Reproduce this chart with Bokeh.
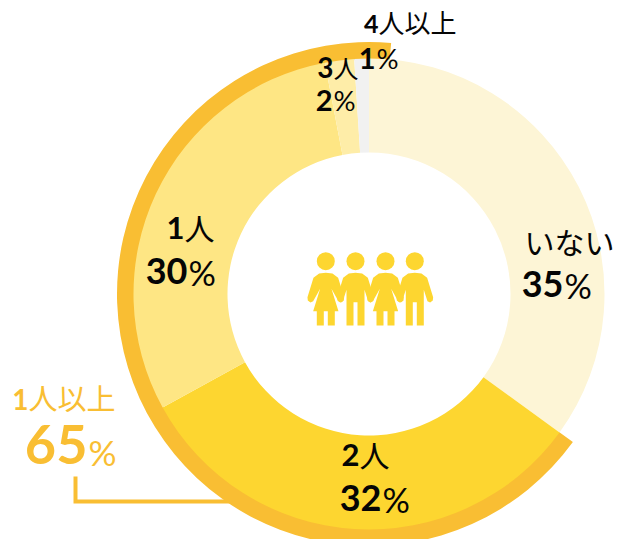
from math import pi
from bokeh.plotting import figure
from bokeh.models import Range1d
from bokeh.core.properties import value
from bokeh.embed import file_html
from bokeh.resources import INLINE

categories = ["いない", "2人", "1人", "3人", "4人以上"]
shares = [35, 32, 30, 2, 1]
colors = ["#FDF5D6", "#FDD630", "#FEE684", "#FEEDA8", "#F1F1F1"]
group_label = "1人以上"
group_share = 65
group_color = "#F9BE33"
ink = "#050505"

CX, CY = 368.5, 293.5
W, H = 618, 539
INNER, OUTER, RING = 141.5, 235.5, 252
RING_OVERSHOOT = 1.4

p = figure(width=W, height=H, output_backend="svg", toolbar_location=None,
           x_range=Range1d(0, 618), y_range=Range1d(539, 0),
           min_border=0, outline_line_color=None)
p.axis.visible = False
p.grid.visible = False
p.background_fill_color = "white"
p.border_fill_color = "white"

def to_angle(pct):
    return pi / 2 - pct / 100 * 2 * pi

p.line(x=[75, 75, 240], y=[476, 501, 501], line_color=group_color, line_width=4, line_join="miter")

p.annular_wedge(x=CX, y=CY, inner_radius=OUTER - 1, outer_radius=RING,
                start_angle=to_angle(shares[0]),
                end_angle=to_angle(shares[0] + group_share + RING_OVERSHOOT),
                direction="clock", color=group_color, line_color=None)

cum = 0
for s, c in zip(shares, colors):
    p.annular_wedge(x=CX, y=CY, inner_radius=INNER, outer_radius=OUTER,
                    start_angle=to_angle(cum), end_angle=to_angle(cum + s),
                    direction="clock", color=c, line_color=None)
    cum += s

NUM_FONT = "Lato"
JP_FONT = "Noto Sans CJK JP"
LIFT = {NUM_FONT: 0.39, JP_FONT: 0.45}

def txt(x, y, s, size, color, font, weight="normal", align="left"):
    p.text(x=[x], y=[y - LIFT[font] * size], text=[s], text_font=value(font), text_font_size=f"{size}px",
           text_font_style=weight, text_color=color, text_align=align, text_baseline="alphabetic")

def head(x, y, num, rest, size, rest_size, color):
    if num:
        txt(x, y, num, size, color, NUM_FONT, "bold", "right")
    txt(x, y, rest, rest_size, color, JP_FONT)

def pct(x, y, digits, size, color, psize=None):
    txt(x, y, digits, size, color, NUM_FONT, "bold", "right")
    txt(x + 1, y, "%", psize or size * 0.95, color, NUM_FONT)

head(524, 254, "", categories[0], 28, 30, ink)
pct(563, 298, str(shares[0]), 36, ink)
head(359, 467, categories[1][0], categories[1][1], 31, 30, ink)
pct(381, 512, str(shares[1]), 36, ink)
head(184, 240, categories[2][0], categories[2][1], 31, 30, ink)
pct(187, 285, str(shares[2]), 36, ink)
head(333, 78, categories[3][0], categories[3][1], 28, 25, ink)
pct(332, 111, str(shares[3]), 29, ink)
head(378, 33, categories[4][0], categories[4][1:], 25, 26, ink)
pct(375, 69, str(shares[4]), 29, ink)
head(28, 410, group_label[0], group_label[1:], 28, 29, group_color)
pct(87, 465, str(group_share), 54, group_color, 35)

icon_color = "#FDD630"
heads_x = [325.3, 355, 385, 414.3]
head_y = 260.7
female = [(0,97),(20,99),(37,112),(55,170),(54,180),(46,186),(38,182),(17,145),(38,212),(27,212),(27,255),(6,255),(6,212),
          (-6,212),(-6,255),(-27,255),(-27,212),(-38,212),(-17,145),(-38,182),(-46,186),(-54,180),(-55,170),(-37,112),(-20,99)]
male = [(0,97),(20,99),(37,112),(55,170),(54,180),(46,186),(38,182),(27,148),(27,255),(6,255),(6,185),
        (-6,185),(-6,255),(-27,255),(-27,148),(-38,182),(-46,186),(-54,180),(-55,170),(-37,112),(-20,99)]
xs, ys = [], []
for i, hx in enumerate(heads_x):
    shape = female if i % 2 == 0 else male
    xs.append([hx + a / 3 for a, b in shape])
    ys.append([240 + b / 3 for a, b in shape])
p.patches(xs, ys, color=icon_color, line_color=None)
p.scatter(x=heads_x, y=[head_y] * 4, size=18, color=icon_color, line_color=None)

open("out.html", "w").write(file_html(p, INLINE))
